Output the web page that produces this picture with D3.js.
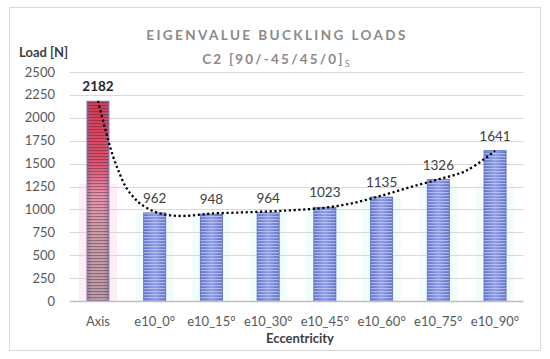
<!DOCTYPE html>
<html><head><meta charset="utf-8">
<script src="https://cdn.jsdelivr.net/npm/d3@7"></script>
<style>
html,body{margin:0;padding:0;background:#fff;}
svg{display:block;font-family:Lato,"Open Sans",sans-serif;}
</style></head>
<body>
<svg id="chart" width="550" height="359"></svg>
<script>
const categories = ["Axis","e10_0°","e10_15°","e10_30°","e10_45°","e10_60°","e10_75°","e10_90°"];
const loads = [2182, 962, 948, 964, 1023, 1135, 1326, 1641];
const yTicks = [0,250,500,750,1000,1250,1500,1750,2000,2250,2500];
// dotted trend line (position in category steps, value)
const trendPos = [0, 0.125, 0.25, 0.375, 0.5, 0.625, 0.75, 1.0, 1.25, 1.5, 1.75, 2.0, 2.5, 3.0, 3.5, 4.0, 4.5, 5.0, 5.5, 6.0, 6.5, 7.0];
const trendVal = [2183, 1885, 1610, 1400, 1235, 1135, 1060, 975, 937, 928, 940, 955, 966, 978, 994, 1018, 1070, 1150, 1242, 1328, 1425, 1640];

const svg = d3.select("#chart");
const defs = svg.append("defs");

// outer frame
svg.append("rect").attr("x",9.5).attr("y",7.5).attr("width",531).attr("height",343)
  .attr("fill","#fff").attr("stroke","#d9d9d9").attr("stroke-width",1);

const x = d3.scaleBand().domain(categories).range([69.6, 523.4]).paddingInner(0.61).paddingOuter(0.305);
const y = d3.scaleLinear().domain([0, 2500]).range([301, 72]);

// gradients & stripe patterns
const gB = defs.append("linearGradient").attr("id","gBlue").attr("x1",0).attr("x2",1).attr("y1",0).attr("y2",0);
gB.append("stop").attr("offset","0%").attr("stop-color","#5f70c8");
gB.append("stop").attr("offset","50%").attr("stop-color","#8e9ce4");
gB.append("stop").attr("offset","100%").attr("stop-color","#5f70c8");
const gR = defs.append("linearGradient").attr("id","gRed").attr("x1",0).attr("x2",0).attr("y1",0).attr("y2",1);
gR.append("stop").attr("offset","0%").attr("stop-color","#dc3850");
gR.append("stop").attr("offset","30%").attr("stop-color","#e45068");
gR.append("stop").attr("offset","48%").attr("stop-color","#ec96a8");
gR.append("stop").attr("offset","65%").attr("stop-color","#d0a0a4");
gR.append("stop").attr("offset","100%").attr("stop-color","#bca0a4");
const gRe = defs.append("linearGradient").attr("id","gRedEdge").attr("x1",0).attr("x2",1).attr("y1",0).attr("y2",0);
gRe.append("stop").attr("offset","0%").attr("stop-color","#8070a8").attr("stop-opacity",0.6);
gRe.append("stop").attr("offset","25%").attr("stop-color","#8070a8").attr("stop-opacity",0);
gRe.append("stop").attr("offset","75%").attr("stop-color","#8070a8").attr("stop-opacity",0);
gRe.append("stop").attr("offset","100%").attr("stop-color","#8070a8").attr("stop-opacity",0.6);
const pB = defs.append("pattern").attr("id","stripeB").attr("patternUnits","userSpaceOnUse").attr("width",10).attr("height",3);
pB.append("rect").attr("width",10).attr("height",1.2).attr("fill","#c4ccf6").attr("opacity",0.75);
const pR = defs.append("pattern").attr("id","stripeR").attr("patternUnits","userSpaceOnUse").attr("width",10).attr("height",3);
pR.append("rect").attr("width",10).attr("height",1.1).attr("fill","#402848").attr("opacity",0.45);

// glow behind bars
svg.append("g").selectAll("rect").data(loads).join("rect")
  .attr("x",(d,i)=>x(categories[i]) - 8)
  .attr("width", x.bandwidth() + 16)
  .attr("y", d => y(Math.min(d, 1280)))
  .attr("height", d => y(0) - y(Math.min(d, 1280)))
  .attr("fill",(d,i)=> i===0 ? "#ffe8f4" : "#eefcfd").attr("opacity",0.8);

// gridlines
svg.append("g").selectAll("line").data(yTicks.filter(t=>t>0)).join("line")
  .attr("x1",69.6).attr("x2",523.4).attr("y1",d=>Math.round(y(d))+0.5).attr("y2",d=>Math.round(y(d))+0.5)
  .attr("stroke","#d9d9d9").attr("stroke-width",1);

// y tick labels
svg.append("g").selectAll("text").data(yTicks).join("text")
  .attr("x",55).attr("y",d=>y(d)+4.5).attr("text-anchor","end")
  .attr("font-size","13px").attr("fill","#595959").text(d=>d);

// bars
const bars = svg.append("g");
bars.selectAll("rect.base").data(loads).join("rect").attr("class","base")
  .attr("x",(d,i)=>x(categories[i])).attr("width",x.bandwidth())
  .attr("y",d=>y(d)).attr("height",d=>y(0)-y(d))
  .attr("fill",(d,i)=> i===0 ? "url(#gRed)" : "url(#gBlue)");
bars.selectAll("rect.edge").data(loads.slice(0,1)).join("rect").attr("class","edge")
  .attr("x",(d,i)=>x(categories[i])).attr("width",x.bandwidth())
  .attr("y",d=>y(d)).attr("height",d=>y(0)-y(d))
  .attr("fill","url(#gRedEdge)");
bars.selectAll("rect.stripe").data(loads).join("rect").attr("class","stripe")
  .attr("x",(d,i)=>x(categories[i])).attr("width",x.bandwidth())
  .attr("y",d=>y(d)).attr("height",d=>y(0)-y(d))
  .attr("fill",(d,i)=> i===0 ? "url(#stripeR)" : "url(#stripeB)")
  .attr("stroke",(d,i)=> i===0 ? "#9080b0" : "#6272c6").attr("stroke-width",0.8);

// baseline axis
svg.append("line").attr("x1",69.6).attr("x2",523.4).attr("y1",301.5).attr("y2",301.5)
  .attr("stroke","#bfbfbf").attr("stroke-width",1.3);

// category labels
svg.append("g").selectAll("text").data(categories).join("text")
  .attr("x",d=>x(d)+x.bandwidth()/2).attr("y",326).attr("text-anchor","middle")
  .attr("font-size","13px").attr("fill","#595959").text(d=>d);

// data labels
svg.append("g").selectAll("text").data(loads).join("text")
  .attr("x",(d,i)=>x(categories[i])+x.bandwidth()/2).attr("y",d=>y(d)-10)
  .attr("text-anchor","middle").attr("font-size","13.5px")
  .attr("font-weight",(d,i)=> i===0 ? "bold" : "normal")
  .attr("fill",(d,i)=> i===0 ? "#262626" : "#404040").text(d=>d);

// trend line
const step = x.step();
const x0 = x(categories[0]) + x.bandwidth()/2;
const trend = trendPos.map((p,i)=>[x0 + p*step, y(trendVal[i])]);
svg.append("path").attr("d", d3.line().curve(d3.curveCatmullRom.alpha(0.5))(trend))
  .attr("fill","none").attr("stroke","#000").attr("stroke-width",2.3)
  .attr("stroke-dasharray","2.2 2.6");

// titles
svg.append("text").attr("x",277).attr("y",40).attr("text-anchor","middle")
  .attr("font-size","13.5px").attr("font-weight","bold").attr("fill","#8a8a8a").attr("letter-spacing","2.4px")
  .text("EIGENVALUE BUCKLING LOADS");
const t2 = svg.append("text").attr("x",277).attr("y",64).attr("text-anchor","middle")
  .attr("font-size","13.5px").attr("font-weight","bold").attr("fill","#8a8a8a").attr("letter-spacing","2.2px");
t2.append("tspan").text("C2 [90/-45/45/0]");
t2.append("tspan").attr("font-size","9px").attr("font-weight","normal").attr("dy",3).text("S");

svg.append("text").attr("x",19).attr("y",57).attr("font-size","13px").attr("font-weight","bold")
  .attr("fill","#404040").text("Load [N]");
svg.append("text").attr("x",300).attr("y",343).attr("text-anchor","middle").attr("font-size","13px")
  .attr("font-weight","bold").attr("fill","#404040").text("Eccentricity");
</script>
</body></html>
